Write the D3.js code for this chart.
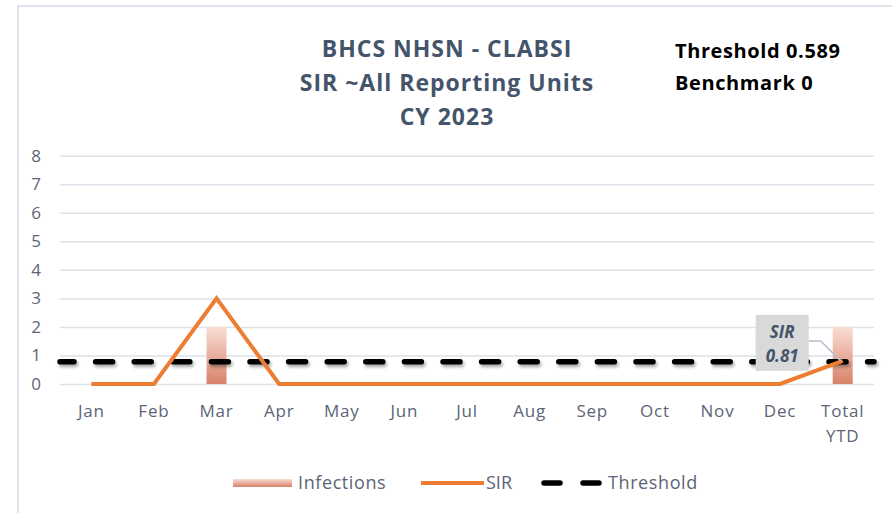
<!DOCTYPE html>
<html>
<head>
<meta charset="utf-8">
<script src="https://cdn.jsdelivr.net/npm/d3@7"></script>
<style>
  body { margin: 0; background: #fff; }
  svg { display: block; }
</style>
</head>
<body>
<div id="wrapper"></div>
<script>
// chart data
const months = ['Jan', 'Feb', 'Mar', 'Apr', 'May', 'Jun', 'Jul', 'Aug', 'Sep', 'Oct', 'Nov', 'Dec', 'Total YTD'];
const infections = [null, null, 2, null, null, null, null, null, null, null, null, null, 2];
const sirValues = [0, 0, 3, 0, 0, 0, 0, 0, 0, 0, 0, 0, 0.81];
const thresholdValue = 0.78;
const yTicks = [0, 1, 2, 3, 4, 5, 6, 7, 8];
const titleLines = ['BHCS NHSN - CLABSI', 'SIR ~All Reporting Units', 'CY 2023'];
const noteLines = ['Threshold 0.589', 'Benchmark 0'];

function drawChart() {
  const dimensions = {
    width: 892,
    height: 513,
    margin: { top: 155.7, right: 18, bottom: 129, left: 60 },
  };
  dimensions.boundedWidth = dimensions.width - dimensions.margin.left - dimensions.margin.right;
  dimensions.boundedHeight = dimensions.height - dimensions.margin.top - dimensions.margin.bottom;

  const textColor = '#44546a';
  const tickColor = '#5b6577';
  const font = '"Open Sans", Lato, sans-serif';

  const svg = d3.select('#wrapper').append('svg')
    .attr('width', dimensions.width)
    .attr('height', dimensions.height);

  const defs = svg.append('defs');
  const grad = defs.append('linearGradient')
    .attr('id', 'barGrad').attr('x1', 0).attr('y1', 0).attr('x2', 0).attr('y2', 1);
  grad.append('stop').attr('offset', '0%').attr('stop-color', '#f9ddd5');
  grad.append('stop').attr('offset', '100%').attr('stop-color', '#d8836a');
  // horizontal lines have a zero-height box, so the filter uses user space
  const shadow = defs.append('filter').attr('id', 'shadow')
    .attr('filterUnits', 'userSpaceOnUse')
    .attr('x', -20).attr('y', 0).attr('width', 940).attr('height', 513);
  shadow.append('feDropShadow').attr('dx', 1.5).attr('dy', 2.5).attr('stdDeviation', 1.5)
    .attr('flood-color', '#000').attr('flood-opacity', 0.35);

  // frame (only top and left edges visible)
  svg.append('path')
    .attr('d', 'M18,513 L18,6 L892,6')
    .attr('fill', 'none')
    .attr('stroke', '#dfe3eb')
    .attr('stroke-width', 2);

  // title
  svg.append('text')
    .attr('text-anchor', 'middle')
    .attr('font-family', font)
    .attr('font-weight', 700)
    .attr('font-size', 23)
    .attr('letter-spacing', 1)
    .attr('fill', textColor)
    .selectAll('tspan').data(titleLines).join('tspan')
    .attr('x', 447)
    .attr('y', (d, i) => 57 + i * 34)
    .text(d => d);

  svg.append('text')
    .attr('font-family', font)
    .attr('font-weight', 700)
    .attr('font-size', 20)
    .attr('letter-spacing', 0.6)
    .attr('fill', '#000')
    .selectAll('tspan').data(noteLines).join('tspan')
    .attr('x', 675)
    .attr('y', (d, i) => 58 + i * 32)
    .text(d => d);

  const bounds = svg.append('g')
    .attr('transform', `translate(${dimensions.margin.left},${dimensions.margin.top})`);

  const xScale = d3.scaleBand()
    .domain(months)
    .range([0, dimensions.boundedWidth]);
  const yScale = d3.scaleLinear()
    .domain([0, 8])
    .range([dimensions.boundedHeight, 0]);
  const xCenter = d => xScale(d) + xScale.bandwidth() / 2;

  // gridlines + y labels
  const yAxis = bounds.append('g')
    .call(d3.axisLeft(yScale).tickValues(yTicks).tickSize(-dimensions.boundedWidth).tickFormat(d3.format('d')));
  yAxis.select('.domain').remove();
  yAxis.selectAll('.tick line').attr('stroke', '#dde2ea').attr('stroke-width', 1.5);
  yAxis.selectAll('.tick text')
    .attr('x', -24)
    .attr('text-anchor', 'middle')
    .attr('font-family', font)
    .attr('font-size', 17)
    .attr('fill', tickColor);

  // x labels
  const xAxis = bounds.append('g')
    .attr('transform', `translate(0,${dimensions.boundedHeight})`)
    .call(d3.axisBottom(xScale).tickSize(0).tickPadding(0));
  xAxis.select('.domain').remove();
  xAxis.selectAll('.tick text').remove();
  xAxis.selectAll('.tick').append('text')
    .attr('text-anchor', 'middle')
    .attr('font-family', font)
    .attr('font-size', 17)
    .attr('letter-spacing', 0.8)
    .attr('fill', tickColor)
    .selectAll('tspan')
    .data(d => d.split(' '))
    .join('tspan')
    .attr('x', 0)
    .attr('y', (d, i) => 33 + i * 25)
    .text(d => d);

  // infection bars
  const barW = 20;
  bounds.append('g').selectAll('rect')
    .data(months.map((m, i) => ({ m, v: infections[i] })).filter(d => d.v != null))
    .join('rect')
    .attr('x', d => xCenter(d.m) - barW / 2)
    .attr('y', d => yScale(d.v))
    .attr('width', barW)
    .attr('height', d => yScale(0) - yScale(d.v))
    .attr('fill', 'url(#barGrad)');

  // threshold line
  bounds.append('line')
    .attr('x1', 0)
    .attr('x2', dimensions.boundedWidth)
    .attr('y1', yScale(thresholdValue))
    .attr('y2', yScale(thresholdValue))
    .attr('stroke', '#000')
    .attr('stroke-width', 5.5)
    .attr('stroke-linecap', 'round')
    .attr('stroke-dasharray', '17,21.6')
    .attr('stroke-dashoffset', 3)
    .attr('filter', 'url(#shadow)');

  // SIR line
  const lineGen = d3.line()
    .x((d, i) => xCenter(months[i]))
    .y(d => yScale(d));
  bounds.append('path')
    .attr('d', lineGen(sirValues))
    .attr('fill', 'none')
    .attr('stroke', '#ed7d31')
    .attr('stroke-width', 4)
    .attr('stroke-linejoin', 'miter');

  // data label for total
  const last = months.length - 1;
  const px = xCenter(months[last]);
  const py = yScale(sirValues[last]);
  const boxX = px - 87, boxY = py - 46, boxW = 53, boxH = 56;
  bounds.append('polyline')
    .attr('points', `${boxX + boxW},${boxY + 26} ${px - 22},${boxY + 26} ${px - 2},${py}`)
    .attr('fill', 'none')
    .attr('stroke', '#b4c0d0')
    .attr('stroke-width', 1.5);
  bounds.append('rect')
    .attr('x', boxX).attr('y', boxY)
    .attr('width', boxW).attr('height', boxH)
    .attr('fill', '#d9d9d9');
  bounds.append('text')
    .attr('text-anchor', 'middle')
    .attr('font-family', font)
    .attr('font-weight', 700)
    .attr('font-style', 'italic')
    .attr('font-size', 17)
    .attr('fill', textColor)
    .selectAll('tspan').data(['SIR', d3.format('.2f')(sirValues[last])]).join('tspan')
    .attr('x', boxX + boxW / 2)
    .attr('y', (d, i) => boxY + 23 + i * 24)
    .text(d => d);

  // legend
  const legend = svg.append('g')
    .attr('font-family', font)
    .attr('font-size', 18)
    .attr('fill', tickColor);
  const ly = 483;
  legend.append('rect')
    .attr('x', 233).attr('y', ly - 4).attr('width', 59).attr('height', 8)
    .attr('fill', 'url(#barGrad)');
  legend.append('text').attr('x', 298).attr('y', ly + 6).attr('letter-spacing', 0.6).text('Infections');
  legend.append('line')
    .attr('x1', 421).attr('x2', 484).attr('y1', ly).attr('y2', ly)
    .attr('stroke', '#ed7d31').attr('stroke-width', 4);
  legend.append('text').attr('x', 486).attr('y', ly + 6).text('SIR');
  legend.append('line')
    .attr('x1', 544).attr('x2', 599).attr('y1', ly).attr('y2', ly)
    .attr('stroke', '#000').attr('stroke-width', 5.5)
    .attr('stroke-linecap', 'round')
    .attr('stroke-dasharray', '16,23');
  legend.append('text').attr('x', 608).attr('y', ly + 6).attr('letter-spacing', 0.6).text('Threshold');
}

drawChart();
</script>
</body>
</html>
